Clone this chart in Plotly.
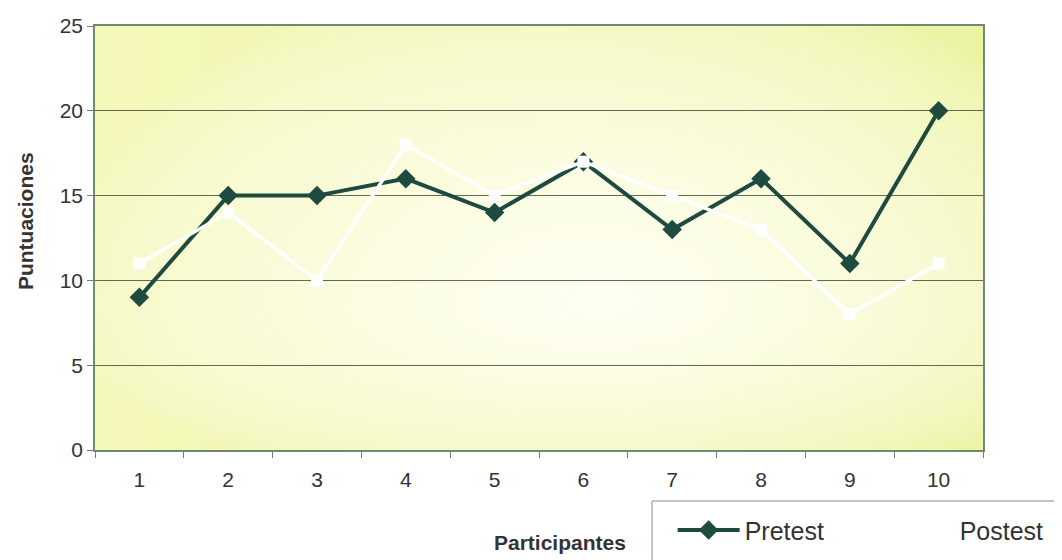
import base64, struct, zlib
import plotly.graph_objects as go

participantes = ["1", "2", "3", "4", "5", "6", "7", "8", "9", "10"]
pretest = [9, 15, 15, 16, 14, 17, 13, 16, 11, 20]
postest = [11, 14, 10, 18, 15, 17, 15, 13, 8, 11]
y_ticks = [0, 5, 10, 15, 20, 25]

FONT = "Arial, 'Liberation Sans', sans-serif"
TXT = "#333333"
DARK = "#1f4a40"


def gradient_png(w=120, h=80):
    edge_l = (244, 247, 186)
    edge_r = (236, 243, 162)
    center = (255, 255, 244)
    cu, cv = 0.57, 0.66
    rows = []
    for j in range(h):
        v = (j + 0.5) / h
        row = bytearray([0])
        for i in range(w):
            u = (i + 0.5) / w
            edge = [a + (b - a) * u for a, b in zip(edge_l, edge_r)]
            du = (u - cu) / 0.62
            dv = (v - cv) / (0.8 if v < cv else 0.45)
            d = (du * du + dv * dv) ** 0.5
            t = max(0.0, min(1.0, 1 - d)) ** 0.6
            row += bytes(int(round(e + (c - e) * t)) for e, c in zip(edge, center))
        rows.append(bytes(row))
    raw = b"".join(rows)

    def chunk(tag, data):
        return struct.pack(">I", len(data)) + tag + data + struct.pack(">I", zlib.crc32(tag + data) & 0xFFFFFFFF)

    png = b"\x89PNG\r\n\x1a\n" + chunk(b"IHDR", struct.pack(">IIBBBBB", w, h, 8, 2, 0, 0, 0)) \
        + chunk(b"IDAT", zlib.compress(raw, 9)) + chunk(b"IEND", b"")
    return "data:image/png;base64," + base64.b64encode(png).decode()


fig = go.Figure()
fig.add_trace(go.Scatter(
    x=participantes, y=pretest, name="Pretest", mode="lines+markers",
    line=dict(color=DARK, width=4),
    marker=dict(symbol="diamond", size=15, color=DARK),
))
fig.add_trace(go.Scatter(
    x=participantes, y=postest, name="Postest", mode="lines+markers",
    line=dict(color="white", width=3.5),
    marker=dict(symbol="square", size=12, color="white"),
))

fig.update_layout(
    width=1062, height=560,
    margin=dict(l=87, r=87, t=18, b=118, autoexpand=False),
    paper_bgcolor="white", plot_bgcolor="rgba(0,0,0,0)",
    font=dict(family=FONT, size=20, color=TXT),
    showlegend=True,
    legend=dict(
        orientation="h", x=0.6505, xanchor="left", y=-0.135, yanchor="top",
        bgcolor="rgba(0,0,0,0)", borderwidth=0,
        font=dict(family=FONT, size=25, color=TXT),
        itemwidth=62, entrywidth=138, itemclick=False,
    ),
    images=[dict(
        source=gradient_png(), xref="paper", yref="paper", x=0, y=1,
        sizex=1, sizey=1, xanchor="left", yanchor="top",
        sizing="stretch", layer="below",
    )],
    shapes=[dict(
        type="rect", xref="paper", yref="paper", x0=0.6273, x1=1.2, y0=-0.1203, y1=-0.4,
        line=dict(color="#8a8a8a", width=1), fillcolor="rgba(0,0,0,0)", layer="above",
    )],
    annotations=[
        dict(text="<b>Participantes</b>", xref="paper", yref="paper", x=0.524, y=-0.219,
             xanchor="center", yanchor="middle",
             showarrow=False, font=dict(family=FONT, size=21, color=TXT)),
        dict(text="<b>Puntuaciones</b>", xref="paper", yref="paper", x=-0.0788, y=0.54,
             xanchor="center", yanchor="middle",
             textangle=-90, showarrow=False, font=dict(family=FONT, size=21, color=TXT)),
    ],
)

fig.update_xaxes(
    type="category", range=[-0.5, 9.5], tickson="boundaries",
    ticks="outside", ticklen=6, tickcolor="#7a7a7a",
    showline=True, linecolor="#6f8a6f", linewidth=1.5, mirror=True,
    showgrid=False, zeroline=False, ticklabelstandoff=10,
    tickfont=dict(family=FONT, size=21, color=TXT),
)
fig.update_yaxes(
    range=[0, 25], tickvals=y_ticks,
    ticks="outside", ticklen=6, tickcolor="#7a7a7a",
    showline=True, linecolor="#6f8a6f", linewidth=1.5, mirror=True,
    showgrid=True, gridcolor="#5d6b52", gridwidth=1, zeroline=False,
    ticklabelstandoff=0,
    tickfont=dict(family=FONT, size=21, color=TXT),
)

fig.write_html("out.html")
